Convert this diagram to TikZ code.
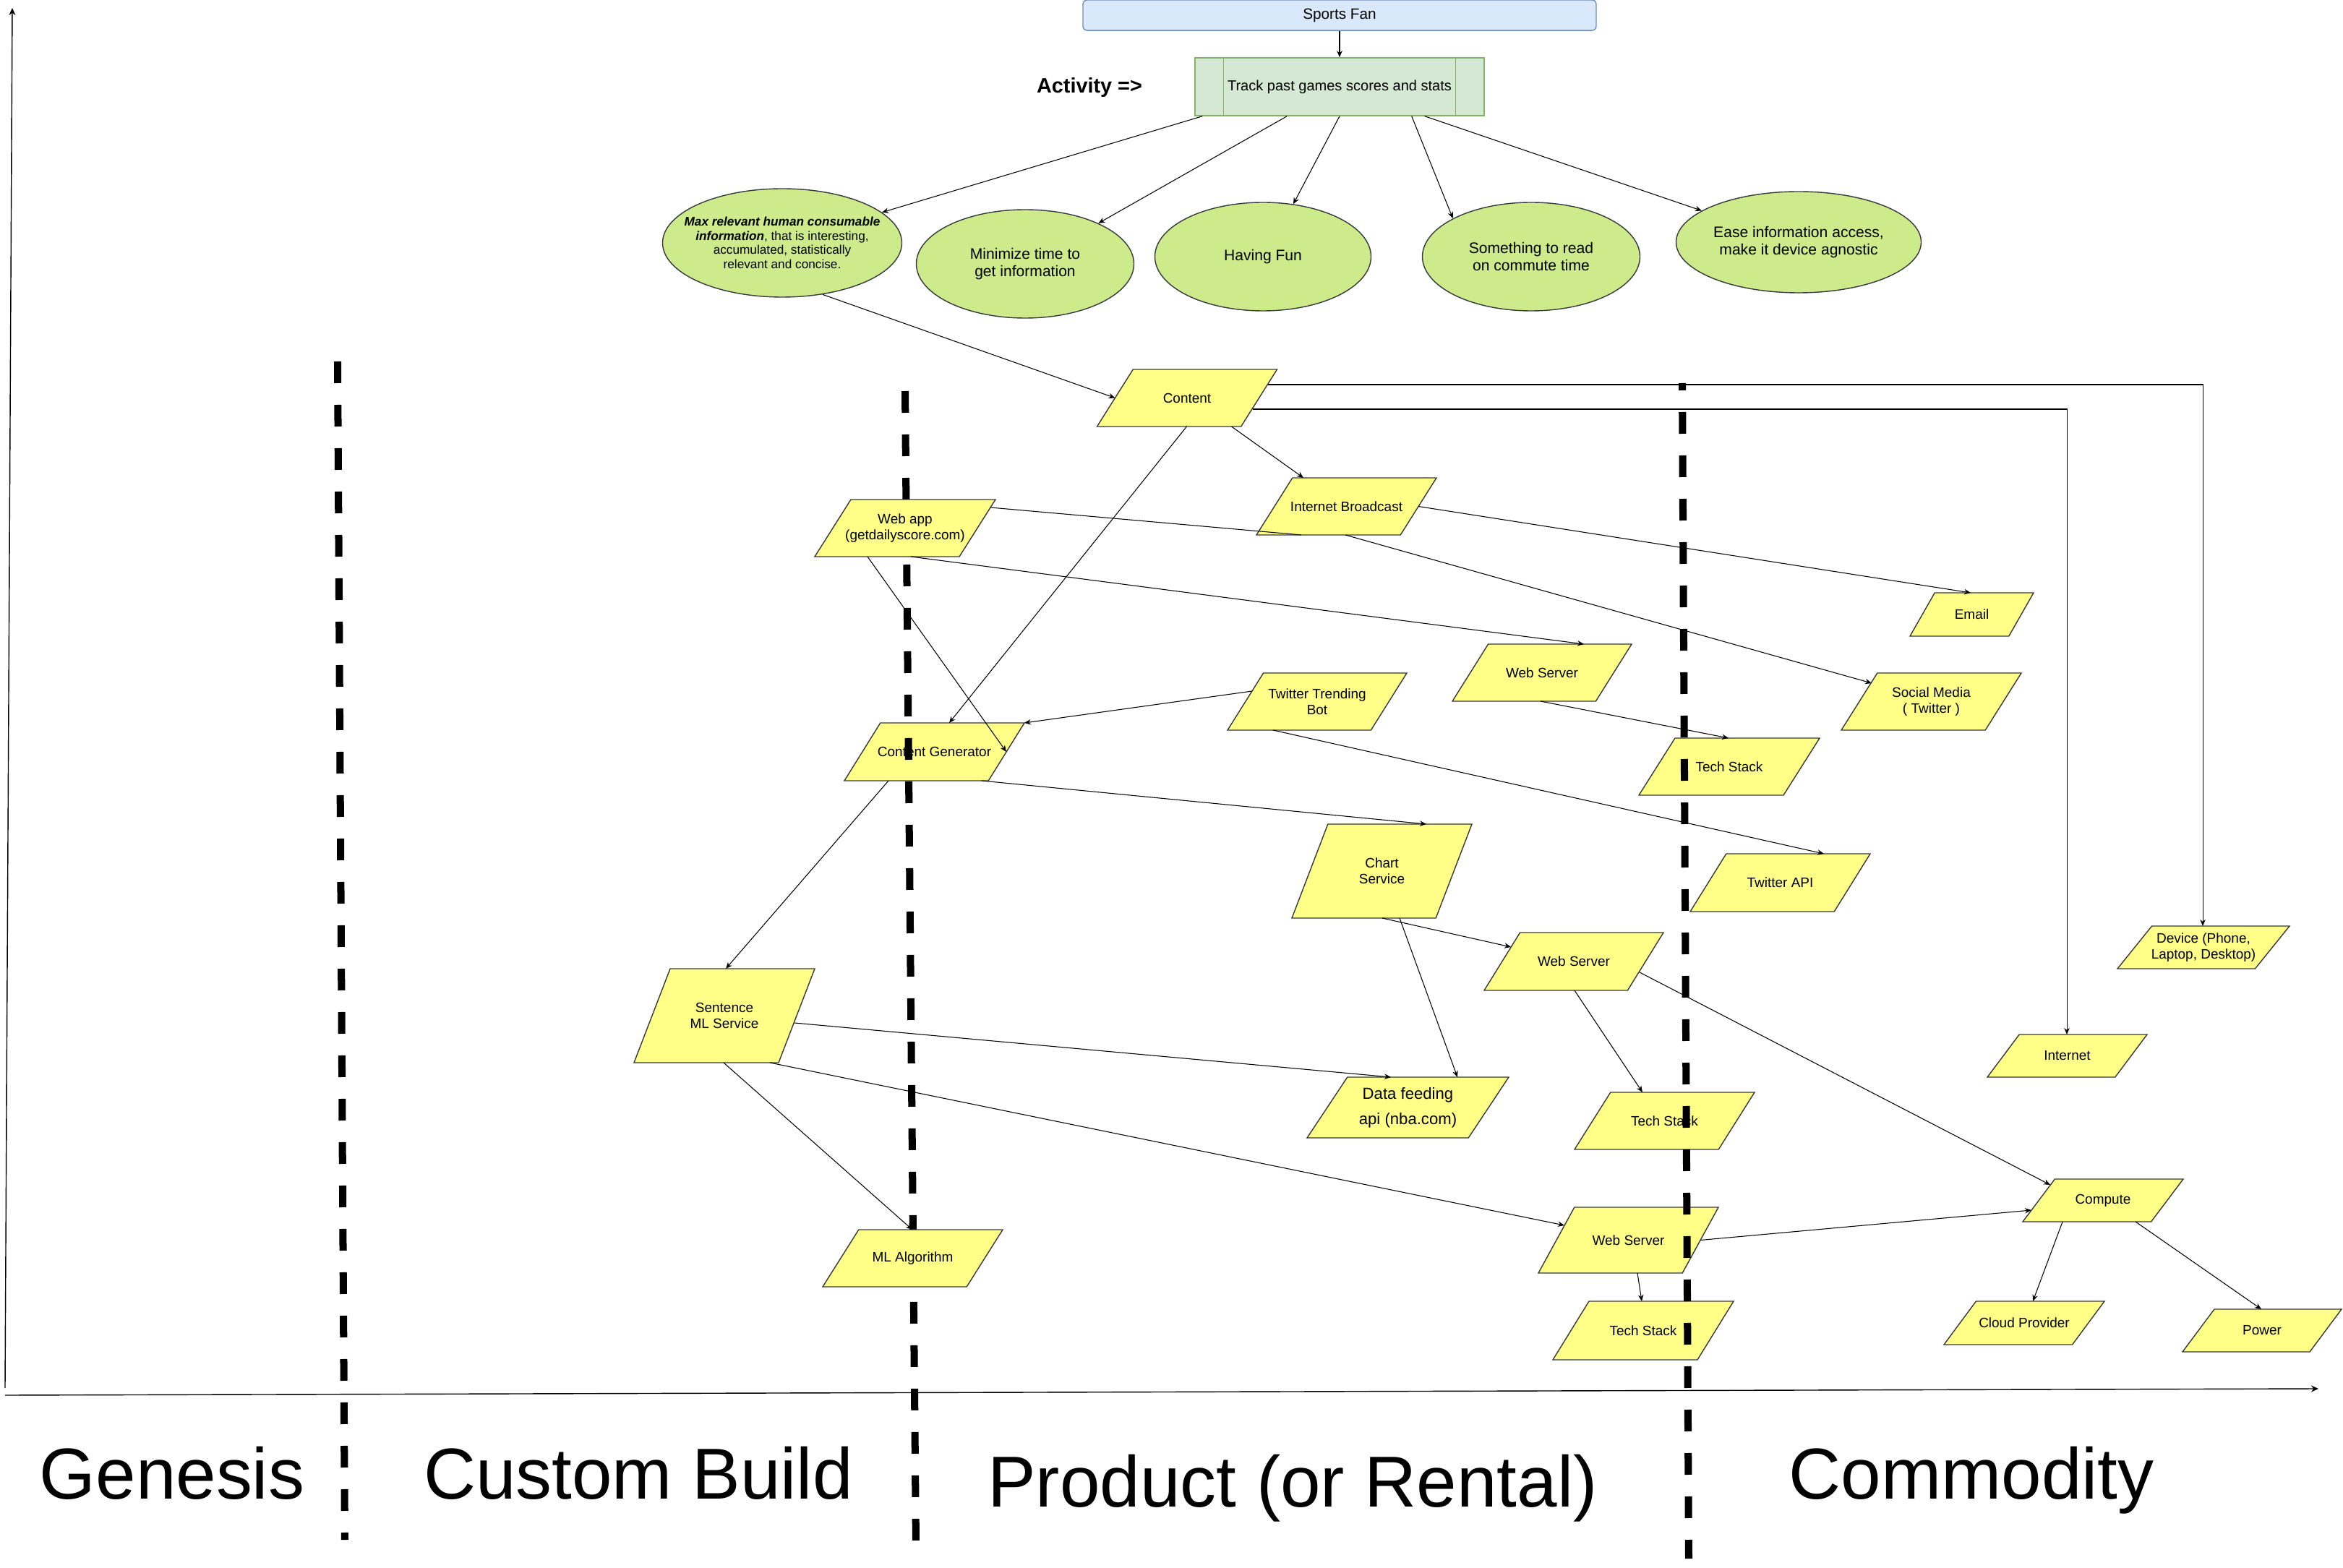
\documentclass[tikz,border=0pt]{standalone}
\usepackage{fontspec}
\setmainfont{Liberation Sans}
\usepackage{amsmath}
\usetikzlibrary{shapes.geometric, arrows.meta}

\definecolor{sticky}{HTML}{FFFF88}
\definecolor{stickyline}{HTML}{36393D}
\definecolor{goalfill}{HTML}{CDEB8B}
\definecolor{fanfill}{HTML}{DAE8FC}
\definecolor{fanline}{HTML}{6C8EBF}
\definecolor{actfill}{HTML}{D5E8D4}
\definecolor{actline}{HTML}{82B366}

% box with its top edge pushed right by a fifth of the width
\makeatletter
\pgfdeclareshape{slanted}{%
  \inheritsavedanchors[from=rectangle]
  \inheritanchorborder[from=rectangle]
  \inheritanchor[from=rectangle]{center}
  \inheritanchor[from=rectangle]{text}
  \inheritanchor[from=rectangle]{base}
  \inheritanchor[from=rectangle]{mid}
  \inheritanchor[from=rectangle]{north}
  \inheritanchor[from=rectangle]{south}
  \inheritanchor[from=rectangle]{east}
  \inheritanchor[from=rectangle]{west}
  \inheritanchor[from=rectangle]{north east}
  \inheritanchor[from=rectangle]{north west}
  \inheritanchor[from=rectangle]{south east}
  \inheritanchor[from=rectangle]{south west}
  \backgroundpath{%
    \southwest \pgf@xa=\pgf@x \pgf@ya=\pgf@y
    \northeast \pgf@xb=\pgf@x \pgf@yb=\pgf@y
    \pgf@xc=\pgf@xb \advance\pgf@xc by -\pgf@xa
    \pgf@xc=0.2\pgf@xc
    \edef\paraL{\the\pgf@xa}\edef\paraR{\the\pgf@xb}%
    \edef\paraB{\the\pgf@ya}\edef\paraT{\the\pgf@yb}%
    \advance\pgf@xa by \pgf@xc \edef\paraLs{\the\pgf@xa}%
    \advance\pgf@xb by -\pgf@xc \edef\paraRs{\the\pgf@xb}%
    \pgfpathmoveto{\pgfqpoint{\paraL}{\paraB}}%
    \pgfpathlineto{\pgfqpoint{\paraLs}{\paraT}}%
    \pgfpathlineto{\pgfqpoint{\paraR}{\paraT}}%
    \pgfpathlineto{\pgfqpoint{\paraRs}{\paraB}}%
    \pgfpathclose
  }
}
\makeatother

\begin{document}
\begin{tikzpicture}
[block/.style 2 args={slanted, draw=stickyline, fill=sticky, line width=0.4pt, minimum width=#1cm, minimum height=#2cm, inner sep=1pt, outer sep=0pt, align=center, font=\fontsize{5.4}{6.3}\selectfont},
 goal/.style={ellipse, draw=stickyline, fill=goalfill, line width=0.4pt, inner sep=0pt, align=center, font=\fontsize{6}{6.9}\selectfont},
 link/.style={-{Stealth[length=0.9mm, width=0.75mm]}, line width=0.3pt},
 axis/.style={-{Stealth[length=1mm, width=0.9mm]}, line width=0.4pt},
 border/.style={line width=2.85pt, dash pattern=on 0.3cm off 0.3cm},
 stage/.style={anchor=base, font=\fontsize{28.4}{34}\selectfont}]

\useasboundingbox (0,0) rectangle (32.41,-21.69);

%Axes
\coordinate (ybottom) at (0.07,-19.20);
\coordinate (ytop) at (0.17,-0.11);
\coordinate (xstart) at (0.07,-19.30);
\coordinate (xend) at (32.07,-19.21);
\draw[axis] (ybottom) -- (ytop);
\draw[axis] (xstart) -- (xend);

%Nodes
\node[rectangle, rounded corners=0.06cm, draw=fanline, fill=fanfill, line width=0.4pt, minimum width=7.10cm, minimum height=0.40cm, font=\fontsize{5.9}{7}\selectfont] (fan) at (18.53,-0.21) {Sports Fan};
\node[rectangle, draw=actline, fill=actfill, line width=0.4pt, minimum width=4.00cm, minimum height=0.80cm, font=\fontsize{5.7}{7}\selectfont] (act) at (18.53,-1.20) {Track past games scores and stats};
\draw[actline, line width=0.4pt] ([xshift=4mm]act.north west) -- ([xshift=4mm]act.south west);
\draw[actline, line width=0.4pt] ([xshift=-4mm]act.north east) -- ([xshift=-4mm]act.south east);
\node[font=\bfseries\fontsize{8.2}{10}\selectfont] (actlabel) at (15.07,-1.21) {Activity =>};

\node[goal, minimum width=3.31cm, minimum height=1.50cm, label={[align=center, font=\fontsize{4.9}{5.6}\selectfont]center:\textbf{\textit{Max relevant human consumable}}\\\textbf{\textit{information}}, that is interesting,\\accumulated, statistically\\relevant and concise.}] (e1) at (10.82,-3.36) {};
\node[goal, minimum width=3.01cm, minimum height=1.50cm] (e2) at (14.18,-3.65) {Minimize time to\\get information};
\node[goal, minimum width=2.99cm, minimum height=1.50cm] (e3) at (17.47,-3.55) {Having Fun};
\node[goal, minimum width=3.01cm, minimum height=1.50cm] (e4) at (21.18,-3.55) {Something to read\\on commute time};
\node[goal, minimum width=3.39cm, minimum height=1.40cm] (e5) at (24.88,-3.35) {Ease information access,\\make it device agnostic};

\node[block={2.49}{0.79}] (content) at (16.42,-5.505) {Content};
\node[block={2.49}{0.79}] (ibc) at (18.625,-7.005) {Internet Broadcast};
\node[block={2.48}{0.79}] (ws1) at (21.33,-9.305) {Web Server};
\node[block={1.71}{0.60}] (email) at (27.275,-8.50) {Email};
\node[block={2.49}{0.79}] (social) at (26.715,-9.705) {Social Media\\( Twitter )};
\node[block={2.48}{0.79}] (ttb) at (18.22,-9.705) {Twitter Trending\\Bot};
\node[block={2.50}{0.79}] (ts1) at (23.92,-10.605) {Tech Stack};
\node[block={2.49}{0.80}] (cg) at (12.925,-10.40) {Content Generator};
\node[block={2.49}{1.30}] (chart) at (19.115,-12.05) {Chart\\Service};
\node[block={2.49}{0.80}] (tapi) at (24.625,-12.21) {Twitter API};
\node[block={2.50}{1.30}] (sml) at (10.02,-14.05) {Sentence\\ML Service};
\node[block={2.48}{0.80}] (ws2) at (21.77,-13.30) {Web Server};
\node[block={2.38}{0.59}] (device) at (30.48,-13.105) {Device (Phone,\\Laptop, Desktop)};
\node[block={2.21}{0.59}] (internet) at (28.595,-14.605) {Internet};
\node[block={2.79}{0.84}, font=\fontsize{6.3}{10}\selectfont] (df) at (19.475,-15.32) {Data feeding\\api (nba.com)};
\node[block={2.49}{0.79}] (ts2) at (23.025,-15.505) {Tech Stack};
\node[block={2.22}{0.59}] (compute) at (29.09,-16.605) {Compute};
\node[block={2.49}{0.91}] (ws3) at (22.525,-17.155) {Web Server};
\node[block={2.50}{0.81}] (ts3) at (22.73,-18.405) {Tech Stack};
\node[block={2.22}{0.60}] (cloud) at (28.00,-18.30) {Cloud Provider};
\node[block={2.20}{0.59}] (power) at (31.29,-18.405) {Power};

%Stage borders
\draw[border] (4.67,-5.00) -- (4.77,-21.30);
\draw[border] (12.52,-5.41) -- (12.67,-21.35);
\draw[border, dash phase=0.2cm] (23.27,-5.30) -- (23.36,-21.56);

%these two sit over the border
\node[block={2.50}{0.79}] (webapp) at (12.52,-7.305) {Web app\\(getdailyscore.com)};
\node[block={2.49}{0.79}] (mlalg) at (12.625,-17.405) {ML Algorithm};

%Lines
\draw[link] (fan.south) -- (act.north);
\draw[link] ([xshift=1.1mm]act.south west) -- (e1.17);
\draw[link] ([xshift=12.8mm]act.south west) -- (e2.29);
\draw[link] (act.south) -- (e3.60);
\draw[link] ([xshift=-10.1mm]act.south east) -- (e4.154);
\draw[link] ([xshift=-8.3mm]act.south east) -- (e5.162);
\draw[link] (e1.-52) -- ([xshift=2.5mm]content.west);
\draw[link] ([xshift=-6.3mm]content.south east) -- ([xshift=6.5mm]ibc.north west);
\draw[link] ([xshift=12.4mm]content.south west) -- ([xshift=14.5mm]cg.north west);
\draw[link] ([xshift=-1.3mm, yshift=1.85mm]content.east) -| ([xshift=11.8mm]device.north west);
\draw[link] ([xshift=-3.4mm, yshift=-1.55mm]content.east) -| ([xshift=11.0mm]internet.north west);
\draw[line width=0.3pt] ([xshift=-0.7mm, yshift=2.85mm]webapp.east) -- ([xshift=6.2mm]ibc.south west);
\draw[link] ([xshift=13.3mm]webapp.south west) -- ([xshift=18.2mm]ws1.north west);
\draw[link] ([xshift=7.3mm]webapp.south west) -- ([xshift=-2.5mm]cg.east);
\draw[link] ([xshift=-2.5mm]ibc.east) -- ([xshift=8.4mm]email.north west);
\draw[link] ([xshift=12.3mm]ibc.south west) -- ([xshift=4.2mm, yshift=-1.4mm]social.north west);
\draw[link] ([xshift=12.2mm]ws1.south west) -- ([xshift=12.4mm]ts1.north west);
\draw[link] ([xshift=3.4mm, yshift=-2.5mm]ttb.north west) -- (cg.north east);
\draw[link] ([xshift=6.3mm]ttb.south west) -- ([xshift=18.5mm]tapi.north west);
\draw[link] ([xshift=-5.9mm]cg.south east) -- ([xshift=18.6mm]chart.north west);
\draw[link] ([xshift=6.1mm]cg.south west) -- ([xshift=12.7mm]sml.north west);
\draw[link] ([xshift=12.5mm]chart.south west) -- ([xshift=3.7mm, yshift=-2mm]ws2.north west);
\draw[link] ([xshift=14.9mm]chart.south west) -- ([xshift=20.8mm]df.north west);
\draw[link] ([xshift=-2.8mm, yshift=-7.5mm]sml.north east) -- ([xshift=11.6mm]df.north west);
\draw[link] ([xshift=-6.2mm]sml.south east) -- ([xshift=3.6mm, yshift=-2.5mm]ws3.north west);
\draw[link] ([xshift=12.4mm]sml.south west) -- ([xshift=12.4mm]mlalg.north west);
\draw[link] ([xshift=12.5mm]ws2.south west) -- ([xshift=9.4mm]ts2.north west);
\draw[link] ([xshift=-3.3mm, yshift=-5.5mm]ws2.north east) -- ([xshift=3.8mm, yshift=-0.8mm]compute.north west);
\draw[link] ([xshift=-2.5mm]ws3.east) -- ([xshift=1.2mm, yshift=1.6mm]compute.south west);
\draw[link] ([xshift=13.7mm]ws3.south west) -- ([xshift=12.3mm]ts3.north west);
\draw[link] ([xshift=5.5mm]compute.south west) -- ([xshift=12.3mm]cloud.north west);
\draw[link] ([xshift=15.6mm]compute.south west) -- ([xshift=10.9mm]power.north west);

%Stage names
\node[stage] (genesis) at (2.38,-20.73) {Genesis};
\node[stage] (custom) at (8.83,-20.73) {Custom Build};
\node[stage] (product) at (17.88,-20.84) {Product (or Rental)};
\node[stage] (commodity) at (27.27,-20.73) {Commodity};

\end{tikzpicture}
\end{document}
